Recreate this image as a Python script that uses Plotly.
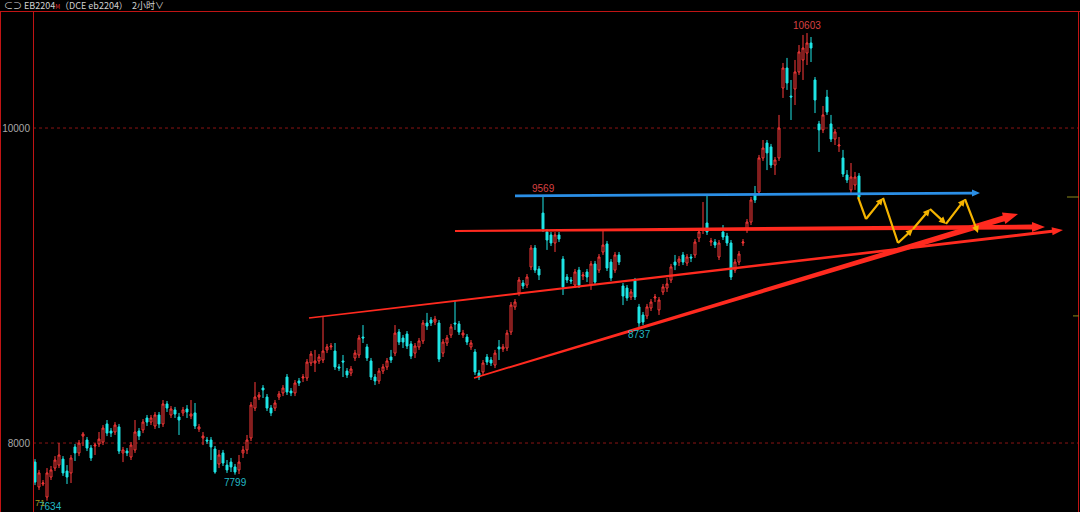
import math
import plotly.graph_objects as go

# ---------------- data ----------------
opens = [
    7879, 7721, 7740, 7657, 7784, 7841, 7860, 7898, 7822, 7810,
    7975, 7937, 8044, 8019, 7968, 7981, 7994, 8006, 8121, 8076,
    8070, 8102, 7937, 7949, 7911, 7956, 8076, 8083, 8159, 8133,
    8108, 8178, 8121, 8248, 8178, 8210, 8165, 8191, 8216, 8171,
    8191, 8089, 8032, 8019, 8019, 7962, 7867, 7937, 7860, 7879,
    7848, 7829, 7937, 7956, 8032, 8222, 8292, 8349, 8292, 8222,
    8222, 8292, 8318, 8419, 8330, 8318, 8394, 8413, 8413, 8508,
    8508, 8521, 8527, 8591, 8610, 8584, 8483, 8521, 8457, 8444,
    8540, 8559, 8673, 8610, 8521, 8419, 8394, 8457, 8483, 8546,
    8571, 8705, 8667, 8692, 8629, 8571, 8610, 8648, 8762, 8781,
    8768, 8762, 8571, 8635, 8686, 8762, 8756, 8686, 8673, 8610,
    8578, 8444, 8451, 8546, 8527, 8495, 8610, 8597, 8603, 8705,
    8864, 8953, 9016, 9003, 9118, 9238, 9105, 9460, 9340, 9321,
    9270, 9321, 9168, 9054, 9035, 9003, 9098, 9060, 9086, 9003,
    9137, 9098, 9213, 9264, 9149, 9098, 9194, 8997, 8984, 8927,
    9029, 8864, 8813, 8807, 8857, 8921, 8845, 8959, 8984, 9035,
    9149, 9149, 9194, 9143, 9181, 9194, 9302, 9353, 9397, 9276,
    9276, 9181, 9340, 9314, 9270, 9098, 9149, 9270, 9353, 9403,
    9575, 9594, 9810, 9905, 9880, 9765, 9810, 10254, 10381, 10203,
    10248, 10356, 10432, 10476, 10540, 10305, 10026, 9988, 10197, 10026,
    9930, 9886, 9810, 9702, 9607, 9638, 9695,
]
highs = [
    7898, 7829, 7765, 7841, 7854, 7917, 8000, 7917, 7860, 7924,
    7994, 8019, 8070, 8038, 7987, 8000, 8070, 8114, 8146, 8095,
    8133, 8121, 7975, 7968, 8006, 8146, 8095, 8152, 8178, 8178,
    8197, 8197, 8273, 8267, 8235, 8229, 8191, 8229, 8241, 8273,
    8254, 8121, 8070, 8038, 8038, 7981, 7956, 7956, 7892, 7905,
    7867, 7924, 7981, 8051, 8260, 8387, 8324, 8368, 8311, 8241,
    8273, 8330, 8368, 8438, 8349, 8400, 8413, 8438, 8533, 8584,
    8591, 8565, 8800, 8629, 8635, 8635, 8502, 8559, 8476, 8489,
    8591, 8686, 8749, 8629, 8540, 8438, 8476, 8502, 8540, 8591,
    8749, 8724, 8686, 8711, 8648, 8635, 8667, 8781, 8826, 8800,
    8807, 8781, 8660, 8686, 8756, 8902, 8775, 8718, 8692, 8654,
    8597, 8464, 8527, 8565, 8546, 8591, 8654, 8629, 8718, 8895,
    8914, 9054, 9035, 9073, 9257, 9257, 9124, 9569, 9359, 9340,
    9340, 9340, 9187, 9073, 9054, 9105, 9118, 9086, 9105, 9156,
    9156, 9200, 9353, 9283, 9168, 9213, 9213, 9016, 9003, 8978,
    9048, 8883, 8832, 8883, 8914, 8946, 8927, 9010, 9048, 9137,
    9194, 9187, 9213, 9200, 9200, 9295, 9359, 9530, 9575, 9302,
    9295, 9289, 9384, 9334, 9289, 9168, 9219, 9295, 9422, 9562,
    9632, 9829, 9924, 9924, 9899, 9816, 10083, 10413, 10445, 10305,
    10432, 10527, 10591, 10603, 10578, 10324, 10045, 10140, 10242, 10083,
    9994, 9943, 9861, 9733, 9778, 9721, 9714,
]
lows = [
    7733, 7702, 7727, 7634, 7765, 7822, 7841, 7791, 7740, 7746,
    7886, 7917, 7981, 7949, 7886, 7924, 7975, 7987, 8044, 8038,
    8051, 7930, 7879, 7917, 7892, 7937, 8019, 8063, 8108, 8114,
    8089, 8095, 8102, 8197, 8159, 8159, 8051, 8171, 8159, 8152,
    8089, 8070, 7987, 7994, 7892, 7805, 7841, 7854, 7810, 7816,
    7799, 7803, 7905, 7930, 8013, 8203, 8273, 8286, 8203, 8171,
    8203, 8273, 8298, 8305, 8298, 8298, 8362, 8387, 8394, 8489,
    8451, 8502, 8508, 8571, 8591, 8464, 8457, 8419, 8413, 8425,
    8521, 8540, 8635, 8521, 8400, 8368, 8375, 8438, 8464, 8508,
    8552, 8622, 8603, 8597, 8533, 8540, 8591, 8629, 8718, 8743,
    8749, 8514, 8546, 8616, 8667, 8718, 8686, 8667, 8622, 8591,
    8432, 8400, 8432, 8495, 8489, 8476, 8527, 8578, 8584, 8686,
    8845, 8933, 8978, 8984, 9098, 9080, 9035, 9340, 9226, 9251,
    9213, 9276, 8940, 9016, 9010, 8984, 8984, 9035, 9022, 8972,
    9003, 9080, 9194, 9092, 9029, 9080, 9130, 8876, 8902, 8908,
    8908, 8737, 8749, 8787, 8838, 8895, 8813, 8940, 8959, 9016,
    9098, 9124, 9130, 9124, 9149, 9175, 9276, 9327, 9321, 9251,
    9238, 9162, 9289, 9251, 9035, 9080, 9130, 9251, 9334, 9384,
    9524, 9575, 9791, 9733, 9746, 9702, 9791, 10191, 10242, 10051,
    10146, 10337, 10305, 10400, 10419, 10095, 9848, 9968, 10083, 9911,
    9892, 9848, 9689, 9651, 9588, 9607, 9549,
]
closes = [
    7752, 7810, 7746, 7810, 7829, 7892, 7924, 7810, 7784, 7905,
    7937, 8000, 8057, 7968, 7905, 7987, 8025, 8095, 8063, 8063,
    8114, 7949, 7956, 7937, 7987, 8070, 8044, 8133, 8133, 8159,
    8178, 8121, 8248, 8222, 8216, 8184, 8146, 8210, 8197, 8184,
    8108, 8102, 8044, 8013, 7975, 7816, 7924, 7873, 7829, 7848,
    7816, 7879, 7956, 8019, 8241, 8292, 8305, 8337, 8222, 8191,
    8254, 8311, 8349, 8324, 8318, 8381, 8381, 8419, 8514, 8565,
    8521, 8546, 8584, 8610, 8616, 8483, 8476, 8514, 8432, 8470,
    8571, 8667, 8667, 8540, 8419, 8394, 8457, 8483, 8521, 8527,
    8698, 8641, 8641, 8616, 8552, 8616, 8648, 8762, 8743, 8762,
    8787, 8533, 8641, 8667, 8737, 8756, 8705, 8698, 8641, 8635,
    8451, 8419, 8508, 8514, 8508, 8571, 8597, 8610, 8698, 8876,
    8895, 9035, 8997, 9054, 9238, 9098, 9067, 9359, 9289, 9270,
    9321, 9295, 8991, 9035, 9029, 9086, 9003, 9067, 9054, 9137,
    9022, 9181, 9257, 9111, 9048, 9194, 9149, 8933, 8921, 8959,
    8927, 8762, 8768, 8864, 8895, 8927, 8908, 8991, 9010, 9118,
    9130, 9168, 9149, 9181, 9175, 9276, 9340, 9359, 9340, 9283,
    9257, 9270, 9308, 9270, 9054, 9149, 9200, 9276, 9403, 9543,
    9543, 9810, 9873, 9842, 9765, 9797, 10000, 10381, 10286, 10197,
    10356, 10483, 10508, 10540, 10508, 10178, 9988, 10083, 10102, 9930,
    9975, 9892, 9708, 9670, 9689, 9689, 9562,
]
bar_index = list(range(len(closes)))

y_tick_values = [8000, 10000]
y_tick_labels = ["8000", "10000"]

# extreme-price labels: (bar index, price, text, above?)
mark_bars = [127, 193, 151, 50, 3]
mark_prices = [9569, 10603, 8737, 7799, 7634]
mark_texts = ["9569", "10603", "8737", "7799", "7634"]
mark_above = [True, True, False, False, False]

# hand-drawn lines (bar index, price)
blue_line_x = [120, 236.25]
blue_line_y = [9569, 9587]
red_thin_x = [68.5, 257]
red_thin_y = [8794, 9353]
red_flat_x = [105, 252.5]
red_flat_y = [9346, 9372]
red_rise_x = [109.75, 245.75]
red_rise_y = [8413, 9454]
zig_x = [205.75, 207.75, 212, 215.75, 219.5, 223.75, 227.75, 232.5, 235.75]
zig_y = [9562, 9422, 9556, 9270, 9359, 9486, 9391, 9549, 9334]
zig_heads = [False, True, False, True, True, True, True, True]

right_mark_prices = [9562, 8807]

# ---------------- layout geometry ----------------
W, H = 1080, 512
ML, MR, MT, MB = 33, 1, 11, 0
PW, PH = W - ML - MR, H - MT - MB
BAR_PX = 4.0
XR = [-0.5, -0.5 + PW / BAR_PX]
YR = [7562, 10743]

RED = "#ff2a1f"
UP = "#ff3a3a"
CYAN = "#1fe6e6"
BLUE = "#2b8fe6"
YEL = "#f5b400"
FRAME = "#c01414"


def to_px(x, y):
    return (ML + (x - XR[0]) / (XR[1] - XR[0]) * PW,
            MT + (YR[1] - y) / (YR[1] - YR[0]) * PH)


def to_data(px, py):
    return (XR[0] + (px - ML) / PW * (XR[1] - XR[0]),
            YR[1] - (py - MT) / PH * (YR[1] - YR[0]))


def arrow_path(x0, y0, x1, y1, w0, w1, hl, hw):
    ax, ay = to_px(x0, y0)
    bx, by = to_px(x1, y1)
    dx, dy = bx - ax, by - ay
    L = math.hypot(dx, dy)
    ux, uy = dx / L, dy / L
    nx, ny = -uy, ux
    if hl > 0:
        cx, cy = bx - ux * hl, by - uy * hl
        pts = [(ax + nx * w0 / 2, ay + ny * w0 / 2),
               (cx + nx * w1 / 2, cy + ny * w1 / 2),
               (cx + nx * hw / 2, cy + ny * hw / 2),
               (bx, by),
               (cx - nx * hw / 2, cy - ny * hw / 2),
               (cx - nx * w1 / 2, cy - ny * w1 / 2),
               (ax - nx * w0 / 2, ay - ny * w0 / 2)]
    else:
        pts = [(ax + nx * w0 / 2, ay + ny * w0 / 2),
               (bx + nx * w1 / 2, by + ny * w1 / 2),
               (bx - nx * w1 / 2, by - ny * w1 / 2),
               (ax - nx * w0 / 2, ay - ny * w0 / 2)]
    d = [to_data(px, py) for px, py in pts]
    return "M " + " L ".join(f"{x:.4f},{y:.3f}" for x, y in d) + " Z"


fig = go.Figure(go.Candlestick(
    x=bar_index, open=opens, high=highs, low=lows, close=closes,
    increasing=dict(line=dict(color=UP, width=1), fillcolor="#000000"),
    decreasing=dict(line=dict(color=CYAN, width=1), fillcolor=CYAN),
    whiskerwidth=0, hoverinfo="skip", showlegend=False,
))

shapes = []
# dotted price grid lines
for v in y_tick_values:
    shapes.append(dict(type="line", xref="paper", yref="y", x0=0, x1=1, y0=v, y1=v,
                       line=dict(color="#8a1414", width=1, dash="dot"), layer="below"))
# frame lines
px_paper = lambda px: (px - ML) / PW
py_paper = lambda py: 1 - (py - MT) / PH
shapes += [
    dict(type="line", xref="paper", yref="paper", x0=px_paper(0), x1=px_paper(W),
         y0=py_paper(11.5), y1=py_paper(11.5), line=dict(color=FRAME, width=1)),
    dict(type="line", xref="paper", yref="paper", x0=px_paper(33.5), x1=px_paper(33.5),
         y0=0, y1=py_paper(11.5), line=dict(color=FRAME, width=1)),
    dict(type="line", xref="paper", yref="paper", x0=px_paper(0.5), x1=px_paper(0.5),
         y0=0, y1=py_paper(11.5), line=dict(color=FRAME, width=1)),
    dict(type="line", xref="paper", yref="paper", x0=px_paper(1078.5), x1=px_paper(1078.5),
         y0=0, y1=py_paper(11.5), line=dict(color=FRAME, width=1)),
]
# small olive marks on the right edge
for k, v in enumerate(right_mark_prices):
    shapes.append(dict(type="line", xref="paper", yref="y",
                       x0=px_paper(1067 if k == 0 else 1073), x1=px_paper(1079), y0=v, y1=v,
                       line=dict(color="#8c8a1a", width=1)))


def add_arrow(xs, ys, color, w0, w1, hl, hw):
    shapes.append(dict(type="path", xref="x", yref="y",
                       path=arrow_path(xs[0], ys[0], xs[1], ys[1], w0, w1, hl, hw),
                       fillcolor=color, line=dict(width=0), layer="above"))


add_arrow(red_thin_x, red_thin_y, RED, 1.6, 3.0, 11, 8)
add_arrow(red_flat_x, red_flat_y, RED, 2.0, 5.0, 13, 10)
add_arrow(red_rise_x, red_rise_y, RED, 1.6, 6.0, 15, 12)
add_arrow(blue_line_x, blue_line_y, BLUE, 2.6, 2.6, 8, 7)
for k in range(len(zig_x) - 1):
    add_arrow(zig_x[k:k + 2], zig_y[k:k + 2], YEL, 2.2, 2.2,
              7 if zig_heads[k] else 0, 7)

annotations = []
for b, p, t, up in zip(mark_bars, mark_prices, mark_texts, mark_above):
    annotations.append(dict(
        x=b, y=p, xref="x", yref="y", text=t, showarrow=False,
        yanchor="bottom" if up else "top",
        yshift=2 if t == "7634" else 0,
        xshift=3 if t == "7634" else 0,
        font=dict(family="Liberation Sans", size=10,
                  color="#d84040" if up else "#22b8c4")))
annotations.append(dict(
    x=px_paper(33), y=py_paper(503), xref="paper", yref="paper", xanchor="left",
    yanchor="middle", text="71", showarrow=False,
    font=dict(family="Liberation Sans", size=9, color="#a09a20")))
annotations.append(dict(
    x=px_paper(2), y=py_paper(5.5), xref="paper", yref="paper", xanchor="left",
    yanchor="middle", showarrow=False,
    text="⊂⊃ EB2204<span style='color:#e03030;font-size:6px'>M</span>（DCE eb2204）  2小时∨",
    font=dict(family="Noto Sans CJK SC", size=9, color="#d0d0d0")))

fig.update_layout(
    width=W, height=H,
    margin=dict(l=ML, r=MR, t=MT, b=MB, pad=0),
    paper_bgcolor="#000000", plot_bgcolor="#000000",
    showlegend=False, hovermode=False,
    shapes=shapes, annotations=annotations,
    xaxis=dict(range=XR, visible=False, rangeslider=dict(visible=False), fixedrange=True),
    yaxis=dict(range=YR, tickvals=y_tick_values, ticktext=y_tick_labels,
               showgrid=False, zeroline=False, showline=False, ticks="",
               ticklabelstandoff=2,
               tickfont=dict(family="Liberation Sans", size=10, color="#a8a8a8"),
               fixedrange=True),
)

fig.write_html("out.html", config={"displayModeBar": False},
               post_script="document.body.style.margin='0';document.body.style.background='#000';")
